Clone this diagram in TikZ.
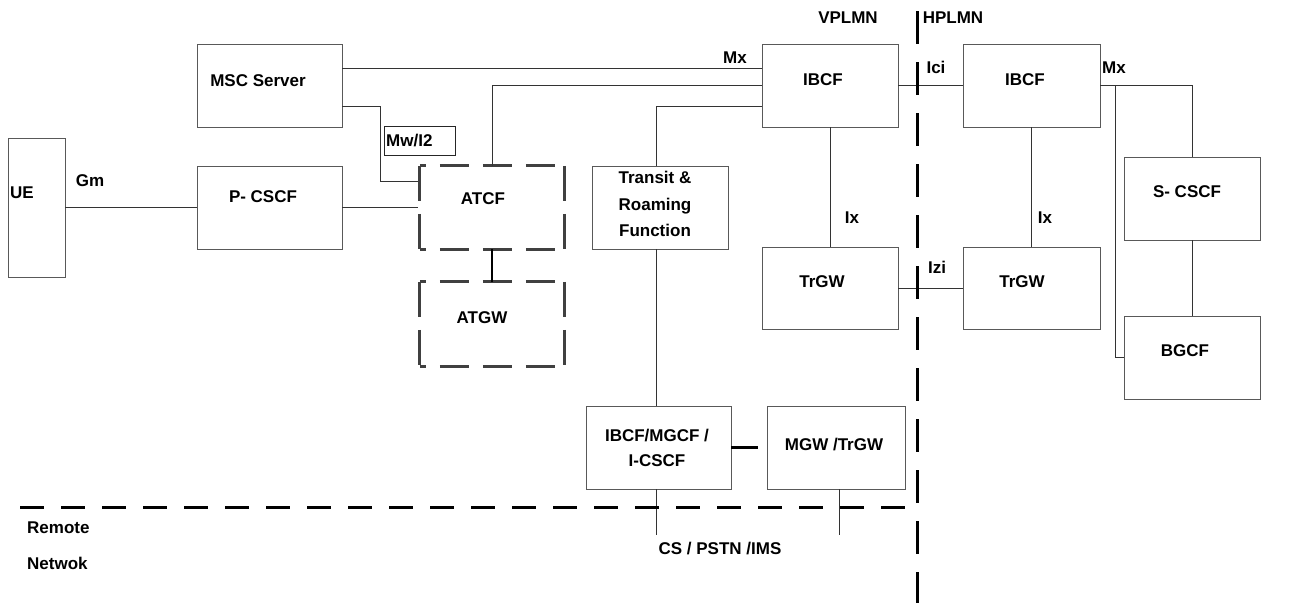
\documentclass[tikz,border=0pt]{standalone}
\usepackage{fontspec}
\setmainfont{Liberation Sans}
\begin{document}
\begin{tikzpicture}[x=1pt,y=-1pt,
  box/.style={draw=black!65,line width=0.9pt,inner sep=0pt},
  dslot/.style={draw=none,inner sep=0pt},
  dhor/.style={draw=black!75,line width=3pt,dash pattern=on 29pt off 14pt,dash phase=23pt},
  dver/.style={draw=black!75,line width=3pt,dash pattern=on 35pt off 13pt},
  lbl/.style={font=\fontsize{17}{26}\selectfont\bfseries,inner sep=0pt,align=center},
  wire/.style={draw=black!80,line width=0.9pt},
  thickwire/.style={draw=black,line width=2.6pt},
  sepline/.style={draw=black,line width=3pt}]
\useasboundingbox (0,0) rectangle (1292,603);

% boxes
\node[box,minimum width=57pt,minimum height=139pt] (ue) at (36.5,207.5) {};
\node[box,minimum width=145pt,minimum height=83pt] (msc) at (269.5,85.5) {};
\node[box,minimum width=145pt,minimum height=83pt] (pcscf) at (269.5,207.5) {};
\node[dslot,minimum width=144pt,minimum height=83pt] (atcf) at (492,207.5) {};
\node[dslot,minimum width=144pt,minimum height=84pt] (atgw) at (492,324) {};
\node[box,draw=black!85,minimum width=71pt,minimum height=29pt] (mwbox) at (419.5,140.5) {};
\node[box,minimum width=136pt,minimum height=83pt] (transit) at (660,207.5) {};
\node[box,minimum width=136pt,minimum height=83pt] (ibcfv) at (830,85.5) {};
\node[box,minimum width=137pt,minimum height=83pt] (ibcfh) at (1031.5,85.5) {};
\node[box,minimum width=136pt,minimum height=82pt] (trgwv) at (830,288) {};
\node[box,minimum width=137pt,minimum height=82pt] (trgwh) at (1031.5,288) {};
\node[box,minimum width=136pt,minimum height=83pt] (scscf) at (1192,198.5) {};
\node[box,minimum width=136pt,minimum height=83pt] (bgcf) at (1192,357.5) {};
\node[box,minimum width=145pt,minimum height=83pt] (imgcf) at (658.5,447.5) {};
\node[box,minimum width=138pt,minimum height=83pt] (mgw) at (836,447.5) {};

% dashed outlines (each side its own subpath)
\foreach \b in {atcf,atgw}{
  \draw[dhor] (\b.north west) -- (\b.north east) (\b.south west) -- (\b.south east);
  \draw[dver] (\b.north west) -- (\b.south west) (\b.north east) -- (\b.south east);
}

% helper coordinates
\coordinate (mwbend) at (380,181);
\coordinate (trtop) at (656,106);
\coordinate (br) at (1115,85.5);
\coordinate (csa) at (656,535);
\coordinate (csb) at (839,535);
\coordinate (hs) at (20,507);
\coordinate (he) at (917,507);
\coordinate (vs) at (917,11);
\coordinate (ve) at (917,603);

% connectors
\draw[wire] (ue.east) -- (pcscf.west);
\draw[wire] (msc.east |- 0,68) -- (ibcfv.west |- 0,68);
\draw[wire] (msc.east |- 0,106) -| (mwbend) -- ([xshift=-1.5pt]atcf.west |- mwbend);
\draw[wire] (pcscf.east) -- ([xshift=-2pt]atcf.west);
\draw[wire] (atcf.north) |- (ibcfv.west);
\draw[wire] (transit.north -| trtop) -- (trtop) -- (ibcfv.west |- trtop);
\draw[wire] (transit.south -| trtop) -- (imgcf.north -| trtop);
\draw[thickwire] (atcf.south) -- (atgw.north);
\draw[wire] (ibcfv.east) -- (ibcfh.west);
\draw[wire] (ibcfv.south) -- (trgwv.north);
\draw[wire] (ibcfh.south) -- (trgwh.north);
\draw[wire] (trgwv.east) -- (trgwh.west);
\draw[wire] (ibcfh.east) -| (scscf.north);
\draw[wire] (br) |- (bgcf.west);
\draw[wire] (scscf.south) -- (bgcf.north);
\draw[thickwire] (imgcf.east) -- ([xshift=-9pt]mgw.west);
\draw[wire] (imgcf.south -| csa) -- (csa);
\draw[wire] (mgw.south -| csb) -- (csb);

% separators
\draw[sepline,dash pattern=on 24pt off 17pt] (hs) -- (he);
\draw[sepline,dash pattern=on 33pt off 18pt] (vs) -- (ve);

% labels
\node[lbl,anchor=west] (tue) at (10,193) {UE};
\node[lbl] (tgm) at (90,181) {Gm};
\node[lbl] (tmsc) at (258,81) {MSC Server};
\node[lbl] (tpcscf) at (263,197) {P- CSCF};
\node[lbl,anchor=west] (tmw) at (386,141) {Mw/I2};
\node[lbl] (tatcf) at (483,199) {ATCF};
\node[lbl] (tatgw) at (482,318) {ATGW};
\node[lbl,font=\fontsize{17}{26.5}\selectfont\bfseries] (ttransit) at (655,204) {Transit \&\\Roaming\\Function};
\node[lbl] (tmx1) at (735,58) {Mx};
\node[lbl] (tvp) at (848,18) {VPLMN};
\node[lbl] (thp) at (953,18) {HPLMN};
\node[lbl] (tici) at (936,67) {Ici};
\node[lbl] (tibcfv) at (823,80) {IBCF};
\node[lbl] (tibcfh) at (1025,80) {IBCF};
\node[lbl] (tmx2) at (1114,68) {Mx};
\node[lbl] (tix1) at (852,218) {Ix};
\node[lbl] (tix2) at (1045,218) {Ix};
\node[lbl] (tizi) at (937,267) {Izi};
\node[lbl] (ttrgwv) at (822,282) {TrGW};
\node[lbl] (ttrgwh) at (1022,282) {TrGW};
\node[lbl] (tscscf) at (1187,192) {S- CSCF};
\node[lbl] (tbgcf) at (1185,351) {BGCF};
\node[lbl,font=\fontsize{17}{25}\selectfont\bfseries] (timgcf) at (657,447.5) {IBCF/MGCF /\\I-CSCF};
\node[lbl] (tmgw) at (834,445) {MGW /TrGW};
\node[lbl,anchor=west] (trem) at (27,528) {Remote};
\node[lbl,anchor=west] (tnet) at (27,563) {Netwok};
\node[lbl] (tcs) at (720,548) {CS / PSTN /IMS};
\end{tikzpicture}
\end{document}
